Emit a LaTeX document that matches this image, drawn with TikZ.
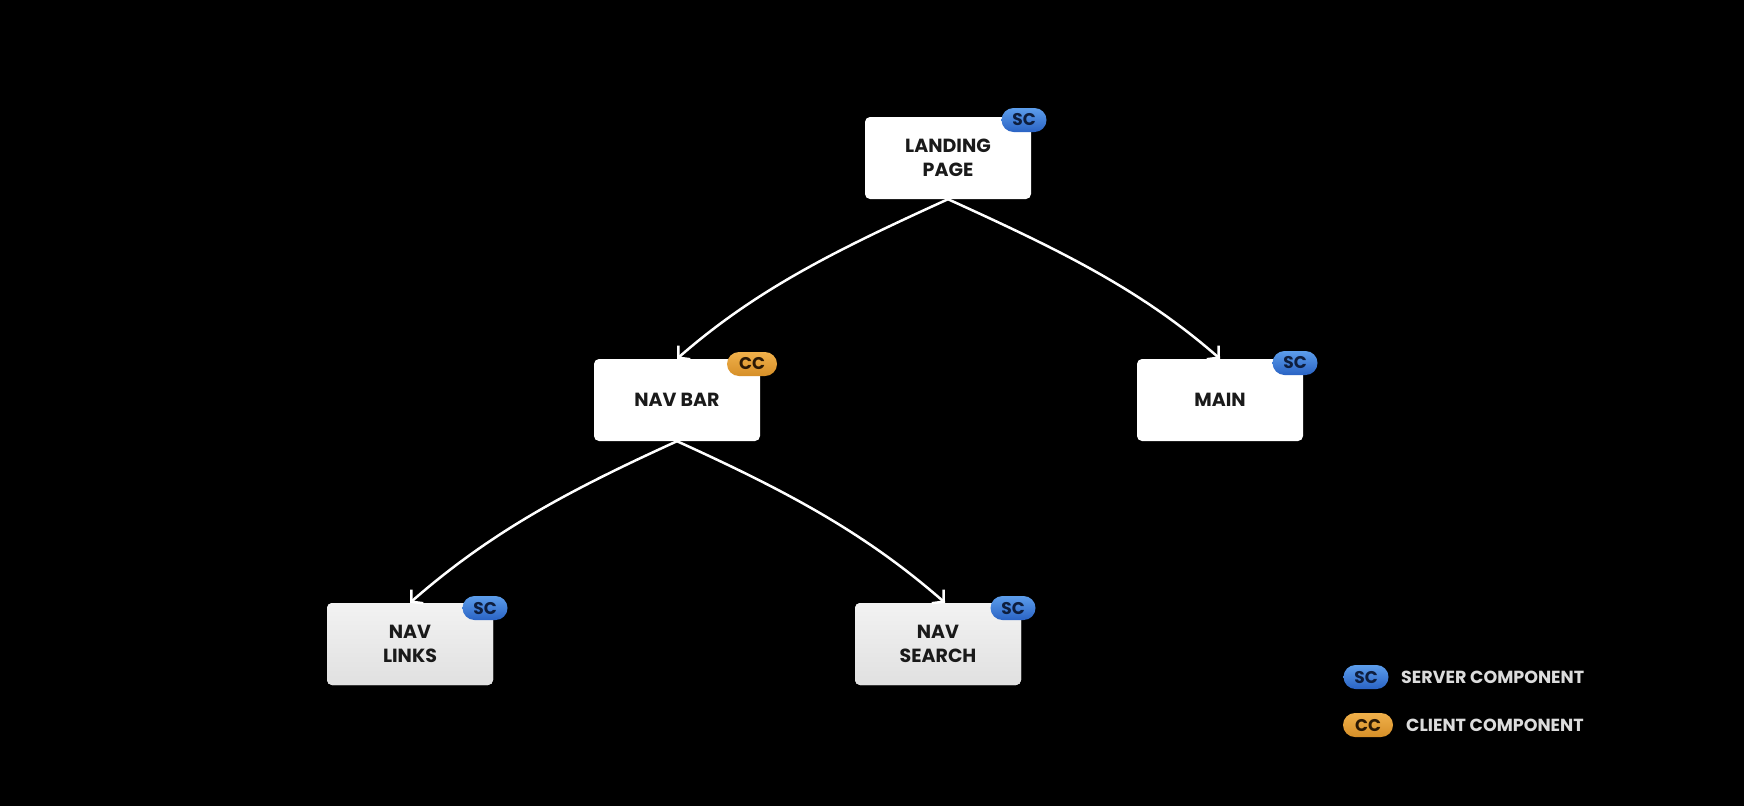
\documentclass[tikz,border=0pt]{standalone}
\usepackage{fontspec}
\setmainfont{Poppins}
\usetikzlibrary{arrows.meta}
\definecolor{bluetop}{HTML}{5C9DEB}
\definecolor{bluebot}{HTML}{2A63C4}
\definecolor{bluetxt}{HTML}{0E1E3E}
\definecolor{orgtop}{HTML}{F0B04A}
\definecolor{orgbot}{HTML}{D68F28}
\definecolor{orgtxt}{HTML}{2A1804}
\definecolor{boxtxt}{HTML}{1A1A1A}
\definecolor{legtxt}{HTML}{DCDCDC}
\tikzset{
  comp/.style={rectangle, rounded corners=5pt, fill=white, minimum width=166pt, minimum height=82pt,
    align=center, text=boxtxt, font=\fontsize{19}{24}\selectfont\bfseries},
  compgray/.style={comp, top color=white!95!black, bottom color=white!88!black},
  badge/.style={rectangle, rounded corners=12pt, minimum height=24pt, inner sep=0pt,
    font=\fontsize{17}{18}\selectfont\bfseries},
  scbadge/.style={badge, minimum width=45pt, top color=bluetop, bottom color=bluebot, text=bluetxt},
  ccbadge/.style={badge, minimum width=50pt, top color=orgtop, bottom color=orgbot, text=orgtxt},
  legend/.style={anchor=west, text=legtxt, inner sep=0pt, font=\fontsize{17.5}{19}\selectfont\bfseries},
  link/.style={draw=white, line width=2.5pt, -{Straight Barb[length=8pt,width=18pt,line width=2.5pt]}}
}
\begin{document}
\begin{tikzpicture}[x=1pt,y=-1pt]
\fill[black] (0,0) rectangle (1744,806);
\useasboundingbox (0,0) rectangle (1744,806);

\node[comp] (lp) at (948,158) {LANDING\\PAGE};
\node[comp] (nb) at (677,400) {NAV BAR};
\node[comp] (mn) at (1220,400) {MAIN};
\node[compgray] (nl) at (410,644) {NAV\\LINKS};
\node[compgray] (ns) at (938,644) {NAV\\SEARCH};

\node[scbadge] (lpb) at (1024,120) {SC};
\node[ccbadge] (nbb) at (752,364) {CC};
\node[scbadge] (mnb) at (1295,363) {SC};
\node[scbadge] (nlb) at (485,608) {SC};
\node[scbadge] (nsb) at (1013,608) {SC};

\coordinate (nsin) at ([xshift=7pt]ns.north);

\draw[link] (lp.south) .. controls +(-110,50) and +(80,-70) .. (nb.north);
\draw[link] (lp.south) .. controls +(110,50) and +(-80,-70) .. (mn.north);
\draw[link] (nb.south) .. controls +(-110,50) and +(80,-70) .. (nl.north);
\draw[link] (nb.south) .. controls +(110,50) and +(-80,-70) .. (nsin);

\node[scbadge] (lsc) at (1366,677) {SC};
\node[ccbadge] (lcc) at (1368,725) {CC};
\node[legend] (lsct) at (1401,677) {SERVER COMPONENT};
\node[legend] (lcct) at (1406,725) {CLIENT COMPONENT};
\end{tikzpicture}
\end{document}
